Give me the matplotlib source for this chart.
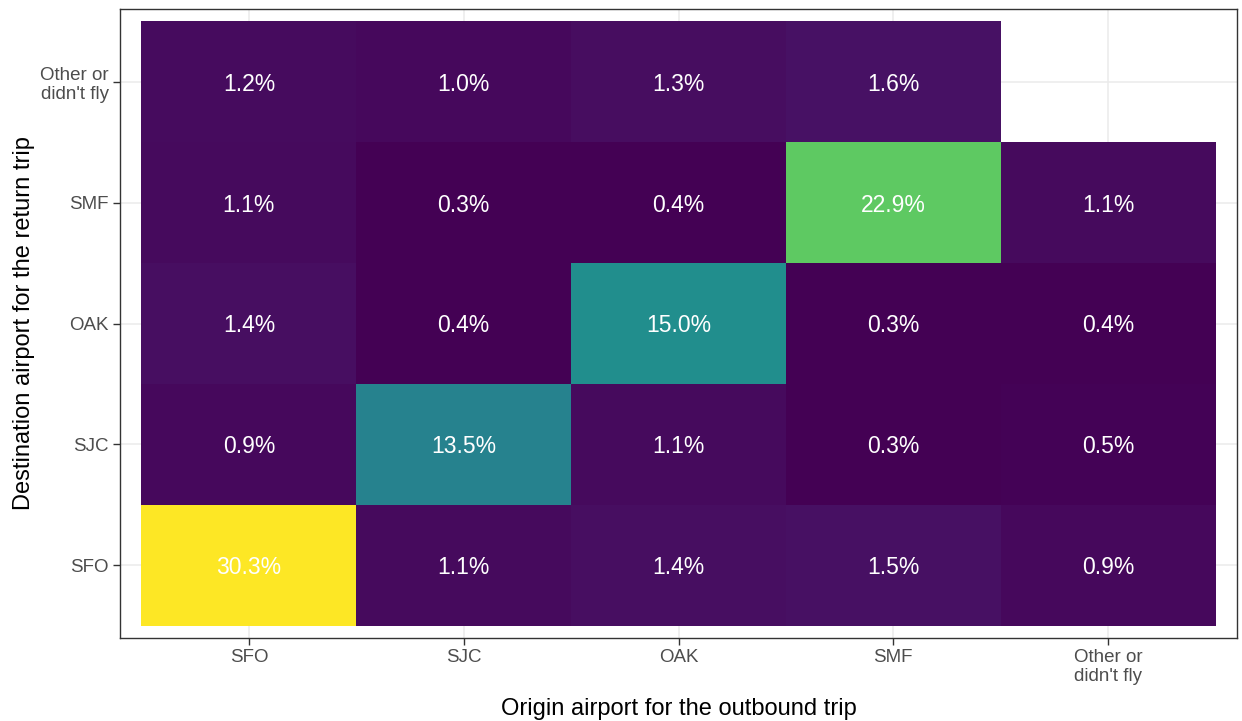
import numpy as np
import matplotlib.pyplot as plt

plt.rcParams['font.family'] = ['Liberation Sans', 'DejaVu Sans']

origins = ["SFO", "SJC", "OAK", "SMF", "Other or\ndidn't fly"]
destinations = ["SFO", "SJC", "OAK", "SMF", "Other or\ndidn't fly"]

# rows = destination (bottom to top), columns = origin
share_dest_sfo = [30.3, 1.1, 1.4, 1.5, 0.9]
share_dest_sjc = [0.9, 13.5, 1.1, 0.3, 0.5]
share_dest_oak = [1.4, 0.4, 15.0, 0.3, 0.4]
share_dest_smf = [1.1, 0.3, 0.4, 22.9, 1.1]
share_dest_other = [1.2, 1.0, 1.3, 1.6, np.nan]

grid = np.array([share_dest_sfo, share_dest_sjc, share_dest_oak,
                 share_dest_smf, share_dest_other])
masked = np.ma.masked_invalid(grid)

fig = plt.figure(figsize=(12.42, 7.21), dpi=100)
ax = fig.add_axes([120 / 1242, 1 - 638 / 721, 1117 / 1242, 629 / 721])

ax.set_axisbelow(True)
ax.grid(True, color="#EBEBEB", linewidth=1.1, zorder=0)

edges = np.arange(0.5, 6.0, 1.0)
ax.pcolormesh(edges, edges, masked, cmap="viridis",
              vmin=np.nanmin(grid), vmax=np.nanmax(grid), zorder=1)

for i in range(len(destinations)):
    for j in range(len(origins)):
        v = grid[i, j]
        if np.isnan(v):
            continue
        ax.text(j + 1, i + 1, f"{v:.1f}%", ha="center", va="center_baseline",
                color="white", fontsize=16.5, zorder=2)

ax.set_xlim(0.4, 5.6)
ax.set_ylim(0.4, 5.6)
ax.set_xticks(range(1, 6))
ax.set_yticks(range(1, 6))
ax.set_xticklabels(origins, linespacing=1.15)
ax.set_yticklabels(destinations, linespacing=1.15)
ax.tick_params(colors="#333333", labelcolor="#4D4D4D", labelsize=13.5,
               length=5, width=1.0, pad=3)

for s in ax.spines.values():
    s.set_color("#333333")
    s.set_linewidth(1.0)

ax.set_xlabel("Origin airport for the outbound trip", fontsize=17, labelpad=9)
ax.set_ylabel("Destination airport for the return trip", fontsize=17, labelpad=4)

fig.savefig("out.png", dpi=100)
